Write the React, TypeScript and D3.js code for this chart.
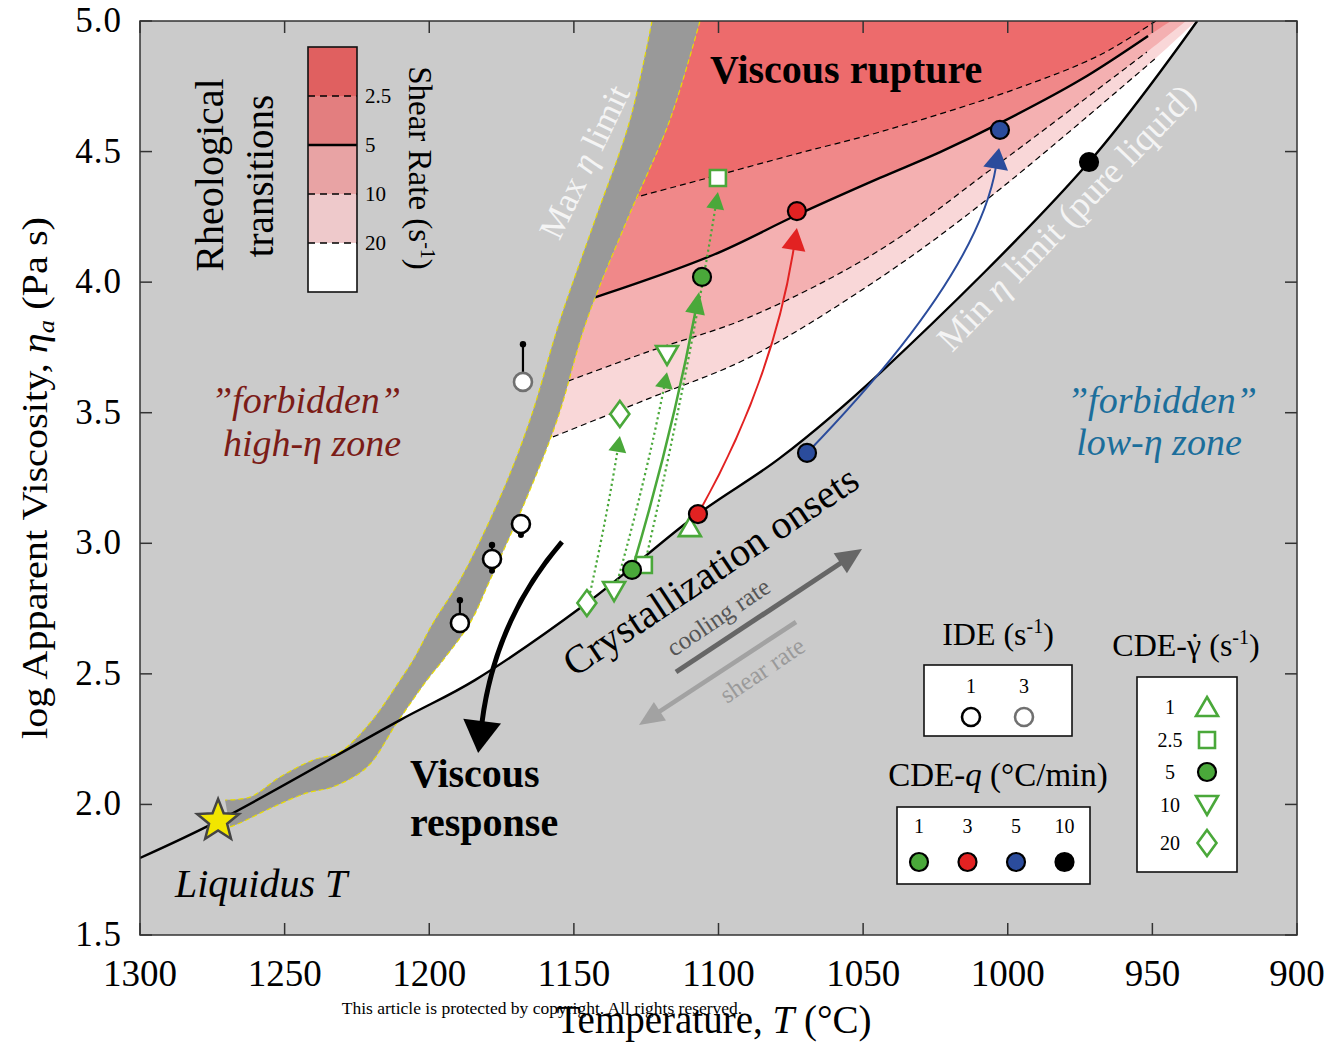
import React from "react";
import * as d3 from "d3";

type P = [number, number];

// ---- axes ----
const xTicks = [1300, 1250, 1200, 1150, 1100, 1050, 1000, 950, 900];
const yTicks = [1.5, 2.0, 2.5, 3.0, 3.5, 4.0, 4.5, 5.0];

// ---- limits (T °C, log eta) ----
const minLimit: P[] = [
  [1300, 1.795], [1273, 1.937], [1210.1, 2.323], [1184.2, 2.476], [1145.5, 2.771],
  [1107.1, 3.112], [1078.7, 3.327], [1044.2, 3.652], [971.9, 4.46], [934.5, 5.0],
];
const maxBandUpper: P[] = [
  [1123.0, 5.0], [1130.6, 4.621], [1142.7, 4.238], [1154.8, 3.855], [1165.2, 3.472],
  [1175.5, 3.177], [1189.4, 2.859], [1198.7, 2.695], [1205.6, 2.553], [1210.1, 2.476],
  [1220.5, 2.312], [1230.9, 2.201], [1240.2, 2.17], [1251.6, 2.105], [1262.0, 2.028],
  [1270.6, 2.017],
];
const maxBandLower: P[] = [
  [1106.4, 5.0], [1116.8, 4.621], [1131.6, 4.238], [1145.5, 3.855], [1155.8, 3.472],
  [1166.2, 3.177], [1179.0, 2.859], [1185.9, 2.695], [1195.2, 2.553], [1200.8, 2.476],
  [1211.2, 2.312], [1221.5, 2.143], [1233.3, 2.067], [1242.3, 2.044], [1254.0, 1.99],
  [1265.4, 1.929], [1268.9, 1.914],
];

// ---- rheological transitions (shear rate, s^-1) ----
const shearRates = ["2.5", "5", "10", "20"];
const trans2p5: P[] = [
  [1140, 4.29], [1129.6, 4.322], [1106.4, 4.391], [1071.8, 4.495], [1044.2, 4.575],
  [998.2, 4.736], [968.1, 4.87], [948.8, 5.0],
];
const trans5: P[] = [
  [1150, 3.92], [1142.4, 3.943], [1101.9, 4.104], [1072.9, 4.257], [1044.2, 4.399],
  [1023.4, 4.498], [1002.7, 4.609], [975.0, 4.774], [951.5, 4.943],
];
const trans10: P[] = [
  [1165, 3.57], [1153.8, 3.614], [1123.7, 3.736], [1089.1, 3.867], [1044.2, 4.123],
  [1006.1, 4.429], [951.9, 4.881],
];
const trans20: P[] = [
  [1170, 3.35], [1160, 3.395], [1123.7, 3.556], [1089.1, 3.713], [1044.2, 4.016],
  [1006.1, 4.326], [948.4, 4.862],
];
// where each zone boundary meets the top of the frame
const transTop: P[] = [[948.8, 5.0], [943.6, 5.0], [938.4, 5.0], [935.0, 5.0]];

// ---- IDE runs ----
const ideT = [1189.4, 1178.3, 1168.3, 1167.6];
const ideEta = [2.695, 2.94, 3.074, 3.618];
const ideHi = [2.79, 3.001, NaN, 3.77];
const ideLo = [NaN, 2.887, 3.024, NaN];
const ideRate = [1, 1, 1, 3];

// ---- CDE-q runs (filled circles) ----
const cdeQRates = [1, 3, 5, 10];
const cdeQOnset: P[] = [[1129.9, 2.898], [1107.1, 3.112], [1069.4, 3.346], [971.9, 4.46]];
const cdeQEnd: (P | null)[] = [[1105.7, 4.02], [1072.9, 4.272], [1002.7, 4.583], null];

// ---- CDE-shear runs (open green symbols) ----
const cdeGRates = ["1", "2.5", "5", "10", "20"];
const cdeGShape = ["up", "square", "circle", "down", "diamond"];
const cdeGOnset: (P | null)[] = [[1109.9, 3.062], [1125.8, 2.917], null, [1136.1, 2.817], [1145.5, 2.771]];
const cdeGEnd: (P | null)[] = [null, [1100.2, 4.399], null, [1117.8, 3.721], [1134.1, 3.495]];

// ---- paths between onset and transition ----
const pathStart: P[] = [
  [1154.1, 3.005], [1107.1, 3.112], [1069.4, 3.346], [1129.9, 2.898],
  [1125.4, 2.925], [1135.4, 2.836], [1144.8, 2.79],
];
const pathCtrl: P[] = [
  [1177.3, 2.706], [1081.2, 3.621], [1010.3, 4.023], [1116.1, 3.413],
  [1110.6, 3.637], [1125.1, 3.246], [1138.6, 3.101],
];
const pathTip: P[] = [
  [1183.1, 2.197], [1072.9, 4.207], [1003.0, 4.514], [1106.7, 3.962],
  [1100.2, 4.345], [1117.8, 3.655], [1134.1, 3.411],
];

const liquidus: P = [1273.0, 1.937];

const W = 1326;
const H = 1044;
const X0 = 140, X1 = 1297, Y0 = 935, Y1 = 21;
const FONT = "'Liberation Serif', 'Times New Roman', serif";
const GREEN = "#4aa83a";
const RED = "#e22222";
const BLUE = "#2b4c9c";

const x = d3.scaleLinear().domain([1300, 900]).range([X0, X1]);
const y = d3.scaleLinear().domain([1.5, 5]).range([Y0, Y1]);
const px = (p: P): [number, number] => [x(p[0]), y(p[1])];

const smooth = d3
  .line<P>()
  .x((d) => x(d[0]))
  .y((d) => y(d[1]))
  .curve(d3.curveCatmullRom.alpha(0.5));

const join = (a: string, b: string) => a + b.replace(/^M/, "L");

function shapePath(shape: string, s = 1): string {
  switch (shape) {
    case "up":
      return `M0,${-10 * s}L${11 * s},${9 * s}L${-11 * s},${9 * s}Z`;
    case "down":
      return `M0,${10 * s}L${11 * s},${-9 * s}L${-11 * s},${-9 * s}Z`;
    case "square":
      return `M${-8 * s},${-8 * s}h${16 * s}v${16 * s}h${-16 * s}Z`;
    case "diamond":
      return `M0,${-13 * s}L${9.5 * s},0L0,${13 * s}L${-9.5 * s},0Z`;
    default:
      return "";
  }
}

function GreenMarker({ shape, cx, cy }: { shape: string; cx: number; cy: number }) {
  if (shape === "circle") {
    return <circle cx={cx} cy={cy} r={9} fill={GREEN} stroke="#000" strokeWidth={2.2} />;
  }
  return (
    <path
      d={shapePath(shape)}
      transform={`translate(${cx},${cy})`}
      fill="#fff"
      stroke={GREEN}
      strokeWidth={2.6}
    />
  );
}

function Arrow({
  start, ctrl, tip, color, width, headLen, headW, dash,
}: {
  start: P; ctrl: P; tip: P; color: string; width: number; headLen: number; headW: number; dash?: string;
}) {
  const s = px(start), c = px(ctrl), t = px(tip);
  const dx = t[0] - c[0], dy = t[1] - c[1];
  const len = Math.hypot(dx, dy);
  const ux = dx / len, uy = dy / len;
  const bx = t[0] - ux * headLen, by = t[1] - uy * headLen;
  const nx = -uy, ny = ux;
  const path = d3.path();
  path.moveTo(s[0], s[1]);
  path.quadraticCurveTo(c[0], c[1], bx + ux * 2, by + uy * 2);
  const head = `M${t[0]},${t[1]}L${bx + (nx * headW) / 2},${by + (ny * headW) / 2}L${bx - (nx * headW) / 2},${by - (ny * headW) / 2}Z`;
  return (
    <g>
      <path d={path.toString()} fill="none" stroke={color} strokeWidth={width} strokeDasharray={dash} />
      <path d={head} fill={color} />
    </g>
  );
}

function StraightArrow({
  from, to, color, width, headLen, headW,
}: { from: [number, number]; to: [number, number]; color: string; width: number; headLen: number; headW: number }) {
  const dx = to[0] - from[0], dy = to[1] - from[1];
  const len = Math.hypot(dx, dy);
  const ux = dx / len, uy = dy / len;
  const bx = to[0] - ux * headLen, by = to[1] - uy * headLen;
  const nx = -uy, ny = ux;
  return (
    <g>
      <line x1={from[0]} y1={from[1]} x2={bx + ux * 2} y2={by + uy * 2} stroke={color} strokeWidth={width} />
      <path
        d={`M${to[0]},${to[1]}L${bx + (nx * headW) / 2},${by + (ny * headW) / 2}L${bx - (nx * headW) / 2},${by - (ny * headW) / 2}Z`}
        fill={color}
      />
    </g>
  );
}

function star(cx: number, cy: number, ro: number, ri: number): string {
  const pts: string[] = [];
  for (let i = 0; i < 10; i++) {
    const r = i % 2 === 0 ? ro : ri;
    const a = -Math.PI / 2 + (i * Math.PI) / 5;
    pts.push(`${cx + r * Math.cos(a)},${cy + r * Math.sin(a)}`);
  }
  return "M" + pts.join("L") + "Z";
}

function Inverse({ sup = "-1" }: { sup?: string }) {
  return (
    <>
      (s<tspan fontSize={20} dy={-12}>{sup}</tspan>
      <tspan dy={12}>)</tspan>
    </>
  );
}

export default function App() {
  const bandPath = join(smooth(maxBandUpper)!, smooth([...maxBandLower].reverse())!) + "Z";
  const lowerTop = maxBandLower.filter((p) => p[1] >= 2.312);
  const minUpper = minLimit.filter((p) => p[0] <= 1211);
  const whitePath = join(smooth(lowerTop)!, smooth(minUpper)!) + "Z";

  const transitions = [trans2p5, trans5, trans10, trans20];
  const zoneFill = ["#ed6b6c", "#f08889", "#f4b0b1", "#f9d7d8"];
  const zonePath = (pts: P[], top: P) => {
    const all = pts[pts.length - 1][1] >= 5 ? pts : [...pts, top];
    return smooth(all)! + `L${X0},${Y1}L${X0},${y(all[0][1])}Z`;
  };

  const tickLen = 12;
  const arrowStyle = [
    { color: "#000", width: 5, headLen: 32, headW: 38 },
    { color: RED, width: 2, headLen: 22, headW: 24 },
    { color: BLUE, width: 2, headLen: 21, headW: 25 },
    { color: GREEN, width: 2.5, headLen: 22, headW: 20 },
    { color: GREEN, width: 2.2, headLen: 17, headW: 18, dash: "2.2,3" },
    { color: GREEN, width: 2.2, headLen: 16, headW: 18, dash: "2.2,3" },
    { color: GREEN, width: 2.2, headLen: 16, headW: 18, dash: "2.2,3" },
  ];

  return (
    <svg width={W} height={H} viewBox={`0 0 ${W} ${H}`} style={{ display: "block", position: "absolute", left: 0, top: 0 }} fontFamily={FONT}>
      <defs>
        <clipPath id="plotClip">
          <rect x={X0} y={Y1} width={X1 - X0} height={Y0 - Y1} />
        </clipPath>
        <clipPath id="meltClip">
          <path d={whitePath} />
        </clipPath>
      </defs>
      <rect x={0} y={0} width={W} height={H} fill="#fff" />
      <rect x={X0} y={Y1} width={X1 - X0} height={Y0 - Y1} fill="#cbcbcb" />

      <g clipPath="url(#plotClip)">
        <path d={whitePath} fill="#fff" />
        <g clipPath="url(#meltClip)">
          {[3, 2, 1, 0].map((i) => (
            <path key={i} d={zonePath(transitions[i], transTop[i])} fill={zoneFill[i]} />
          ))}
          {transitions.map((pts, i) => (
            <path
              key={"t" + i}
              d={smooth(pts)!}
              fill="none"
              stroke="#000"
              strokeWidth={i === 1 ? 2.4 : 1.2}
              strokeDasharray={i === 1 ? undefined : "6,4"}
            />
          ))}
        </g>
        <path d={bandPath} fill="#999999" />
        <path d={smooth(maxBandUpper)!} fill="none" stroke="#e8dc00" strokeWidth={1.2} strokeDasharray="5,3" />
        <path d={smooth(maxBandLower)!} fill="none" stroke="#e8dc00" strokeWidth={1.2} strokeDasharray="5,3" />
        <path d={smooth(minLimit)!} fill="none" stroke="#000" strokeWidth={2.4} />
      </g>

      {/* limit labels */}
      <text transform="translate(595,167) rotate(-64.4)" textAnchor="middle" fontSize={35} fill="#f4f4f4">
        Max <tspan fontStyle="italic">η</tspan> limit
      </text>
      <text transform="translate(1075,226) rotate(-46)" textAnchor="middle" fontSize={36} fill="#f4f4f4">
        Min <tspan fontStyle="italic">η</tspan> limit (pure liquid)
      </text>

      {/* region labels */}
      <text x={710} y={83} fontSize={40} fontWeight="bold" fill="#000">Viscous rupture</text>
      <text x={410} y={787} fontSize={40} fontWeight="bold" fill="#000">Viscous</text>
      <text x={410} y={836} fontSize={40} fontWeight="bold" fill="#000">response</text>
      <text x={175} y={897} fontSize={40} fontStyle="italic" fill="#000">Liquidus T</text>
      <text x={306} y={413} textAnchor="middle" fontSize={38} fontStyle="italic" fill="#7b1c17">”forbidden”</text>
      <text x={312} y={456} textAnchor="middle" fontSize={38} fontStyle="italic" fill="#7b1c17">high-η zone</text>
      <text x={1162} y={413} textAnchor="middle" fontSize={38} fontStyle="italic" fill="#1b6e9b">”forbidden”</text>
      <text x={1159} y={455} textAnchor="middle" fontSize={38} fontStyle="italic" fill="#1b6e9b">low-η zone</text>

      <text transform="translate(718,582) rotate(-33.7)" textAnchor="middle" fontSize={40} fill="#000">Crystallization onsets</text>
      <text transform="translate(723,624) rotate(-34)" textAnchor="middle" fontSize={25} fill="#555">cooling rate</text>
      <text transform="translate(767,677) rotate(-34)" textAnchor="middle" fontSize={25} fill="#9a9a9a">shear rate</text>
      <StraightArrow from={[676, 672]} to={[862, 549]} color="#666" width={5} headLen={26} headW={24} />
      <StraightArrow from={[796, 622]} to={[639, 725]} color="#a2a2a2" width={4.5} headLen={25} headW={22} />

      {/* run paths */}
      {pathStart.map((s, i) => (
        <Arrow key={"a" + i} start={s} ctrl={pathCtrl[i]} tip={pathTip[i]} {...arrowStyle[i]} />
      ))}

      {/* IDE */}
      {ideT.map((t, i) => {
        const cx = x(t), cy = y(ideEta[i]);
        const stroke = ideRate[i] === 1 ? "#000" : "#707070";
        return (
          <g key={"ide" + i}>
            {!isNaN(ideHi[i]) && (
              <g>
                <line x1={cx} x2={cx} y1={cy} y2={y(ideHi[i])} stroke="#000" strokeWidth={2.2} />
                <circle cx={cx} cy={y(ideHi[i]) + 2} r={3.2} fill="#000" />
              </g>
            )}
            {!isNaN(ideLo[i]) && (
              <g>
                <line x1={cx} x2={cx} y1={cy} y2={y(ideLo[i])} stroke="#000" strokeWidth={2.2} />
                <circle cx={cx} cy={y(ideLo[i]) - 2} r={3} fill="#000" />
              </g>
            )}
            <circle cx={cx} cy={cy} r={9} fill="#fff" stroke={stroke} strokeWidth={2.6} />
          </g>
        );
      })}

      {/* CDE-shear symbols */}
      {cdeGShape.map((sh, i) => (
        <g key={"g" + i}>
          {cdeGOnset[i] && sh !== "circle" && <GreenMarker shape={sh} cx={x(cdeGOnset[i]![0])} cy={y(cdeGOnset[i]![1])} />}
          {cdeGEnd[i] && sh !== "circle" && <GreenMarker shape={sh} cx={x(cdeGEnd[i]![0])} cy={y(cdeGEnd[i]![1])} />}
        </g>
      ))}

      {/* CDE-q circles */}
      {cdeQRates.map((q, i) => {
        const fill = [GREEN, RED, BLUE, "#000"][i];
        const pts = [cdeQOnset[i], cdeQEnd[i]].filter(Boolean) as P[];
        return pts.map((p, j) => (
          <circle key={`q${i}-${j}`} cx={x(p[0])} cy={y(p[1])} r={9} fill={fill} stroke="#000" strokeWidth={2.2} />
        ));
      })}

      <path d={star(x(liquidus[0]), y(liquidus[1]), 22, 9.5)} fill="#f2e600" stroke="#444" strokeWidth={2.5} strokeLinejoin="miter" />

      {/* frame and ticks */}
      <rect x={X0} y={Y1} width={X1 - X0} height={Y0 - Y1} fill="none" stroke="#333" strokeWidth={1.5} />
      {xTicks.map((t) => (
        <g key={"xt" + t}>
          <line x1={x(t)} x2={x(t)} y1={Y0} y2={Y0 - tickLen} stroke="#333" strokeWidth={1.5} />
          <line x1={x(t)} x2={x(t)} y1={Y1} y2={Y1 + tickLen} stroke="#333" strokeWidth={1.5} />
          <text x={x(t)} y={986} textAnchor="middle" fontSize={37} fill="#000">{t}</text>
        </g>
      ))}
      {yTicks.map((t) => (
        <g key={"yt" + t}>
          <line x1={X0} x2={X0 + tickLen} y1={y(t)} y2={y(t)} stroke="#333" strokeWidth={1.5} />
          <line x1={X1} x2={X1 - tickLen} y1={y(t)} y2={y(t)} stroke="#333" strokeWidth={1.5} />
          <text x={122} y={y(t) + 11} textAnchor="end" fontSize={35} letterSpacing={1} fill="#000">{t.toFixed(1)}</text>
        </g>
      ))}

      <text transform="translate(47,478) rotate(-90)" textAnchor="middle" fontSize={35} fill="#000" textLength={522} lengthAdjust="spacingAndGlyphs">
        log Apparent Viscosity, <tspan fontStyle="italic">η</tspan>
        <tspan fontStyle="italic" fontSize={23} dy={7}>a</tspan>
        <tspan dy={-7}> (Pa s)</tspan>
      </text>
      <text x={714} y={1033} textAnchor="middle" fontSize={39} fill="#000">
        Temperature, <tspan fontStyle="italic">T</tspan> (°C)
      </text>
      <text x={542} y={1014} textAnchor="middle" fontSize={17.5} fill="#000">
        This article is protected by copyright. All rights reserved.
      </text>

      {/* shear-rate colour key */}
      <text transform="translate(223,175) rotate(-90)" textAnchor="middle" fontSize={40} fill="#000">Rheological</text>
      <text transform="translate(273,176) rotate(-90)" textAnchor="middle" fontSize={39} fill="#000">transitions</text>
      {["#e06060", "#e37e7f", "#e8a3a4", "#eec9cb", "#ffffff"].map((c, i) => (
        <rect key={"cb" + i} x={308} y={47 + i * 49} width={49} height={49} fill={c} />
      ))}
      {shearRates.map((r, i) => (
        <g key={"sr" + r}>
          <line
            x1={308} x2={357} y1={96 + i * 49} y2={96 + i * 49}
            stroke="#000" strokeWidth={i === 1 ? 2.4 : 1.3}
            strokeDasharray={i === 1 ? undefined : "7,5"}
          />
          <text x={365} y={103 + i * 49} fontSize={21} fill="#000">{r}</text>
        </g>
      ))}
      <rect x={308} y={47} width={49} height={245} fill="none" stroke="#111" strokeWidth={1.6} />
      <text transform="translate(409,168) rotate(90)" textAnchor="middle" fontSize={33} fill="#000">
        Shear Rate <Inverse />
      </text>

      {/* IDE key */}
      <text x={998} y={645} textAnchor="middle" fontSize={32} fill="#000">
        IDE <Inverse />
      </text>
      <rect x={924} y={665} width={148} height={71} fill="#fff" stroke="#111" strokeWidth={1.6} />
      {[1, 3].map((r, i) => (
        <g key={"ik" + r}>
          <text x={971 + i * 53} y={693} textAnchor="middle" fontSize={20} fill="#000">{r}</text>
          <circle cx={971 + i * 53} cy={717} r={9} fill="#fff" stroke={r === 1 ? "#000" : "#707070"} strokeWidth={2.6} />
        </g>
      ))}

      {/* CDE-q key */}
      <text x={998} y={786} textAnchor="middle" fontSize={33} fill="#000">
        CDE-<tspan fontStyle="italic">q</tspan> (°C/min)
      </text>
      <rect x={897} y={807} width={193} height={77} fill="#fff" stroke="#111" strokeWidth={1.6} />
      {cdeQRates.map((q, i) => (
        <g key={"qk" + q}>
          <text x={919 + i * 48.5} y={833} textAnchor="middle" fontSize={20} fill="#000">{q}</text>
          <circle cx={919 + i * 48.5} cy={862} r={9} fill={[GREEN, RED, BLUE, "#000"][i]} stroke="#000" strokeWidth={2.2} />
        </g>
      ))}

      {/* CDE-shear key */}
      <text x={1186} y={656} textAnchor="middle" fontSize={32} fill="#000">
        CDE-γ<tspan dx={-11.5} dy={-1}>˙</tspan>
        <tspan dx={1} dy={1}> </tspan>
        <Inverse />
      </text>
      <rect x={1137} y={677} width={100} height={195} fill="#fff" stroke="#111" strokeWidth={1.6} />
      {cdeGRates.map((r, i) => {
        const cy = [707, 740, 772, 805, 843][i];
        return (
          <g key={"gk" + r}>
            <text x={1170} y={cy + 7} textAnchor="middle" fontSize={20} fill="#000">{r}</text>
            <GreenMarker shape={cdeGShape[i]} cx={1207} cy={cy} />
          </g>
        );
      })}
    </svg>
  );
}
